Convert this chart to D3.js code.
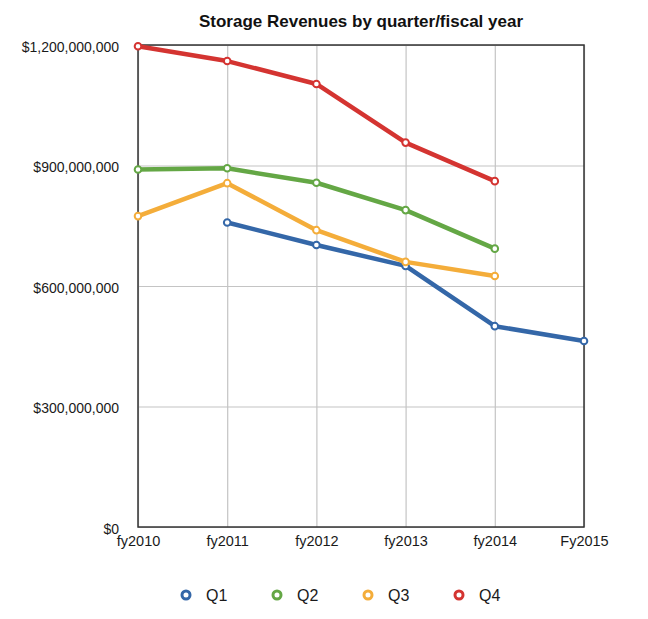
<!DOCTYPE html>
<html>
<head>
<meta charset="utf-8">
<script src="https://cdn.jsdelivr.net/npm/d3@7"></script>
<style>
  body { margin: 0; background: #fff; }
  text { font-family: "Liberation Sans", Arial, sans-serif; }
</style>
</head>
<body>
<svg id="chart"></svg>
<script>
// fiscal years on the x axis
const years = ["fy2010", "fy2011", "fy2012", "fy2013", "fy2014", "Fy2015"];
const yTicks = [0, 300e6, 600e6, 900e6, 1200e6];

// revenue per quarter, null where there is no value
const q1 = [null, 758e6, 702e6, 650e6, 500e6, 463e6];
const q2 = [890e6, 893e6, 857e6, 789e6, 693e6, null];
const q3 = [774e6, 856e6, 739e6, 660e6, 625e6, null];
const q4 = [1197e6, 1160e6, 1103e6, 957e6, 861e6, null];

const seriesNames = ["Q1", "Q2", "Q3", "Q4"];
const seriesColors = ["#3467a8", "#64a745", "#f4ad3a", "#d43431"];

const series = [q1, q2, q3, q4].map((vals, i) => ({
  name: seriesNames[i],
  color: seriesColors[i],
  values: vals.map((v, j) => ({ year: years[j], value: v }))
}));

const config = {
  width: 648,
  height: 619,
  margin: { top: 45, right: 64, bottom: 92, left: 138 }
};

const svg = d3.select("#chart")
  .attr("width", config.width)
  .attr("height", config.height);

const innerW = config.width - config.margin.left - config.margin.right;
const innerH = config.height - config.margin.top - config.margin.bottom;

const x = d3.scalePoint().domain(years).range([0, innerW]);
const y = d3.scaleLinear().domain([0, 1200e6]).range([innerH, 0]);

const g = svg.append("g")
  .attr("transform", `translate(${config.margin.left},${config.margin.top})`);

// title
svg.append("text")
  .attr("x", config.margin.left + innerW / 2)
  .attr("y", 27)
  .attr("text-anchor", "middle")
  .attr("font-size", 17)
  .attr("font-weight", "bold")
  .attr("fill", "#111")
  .text("Storage Revenues by quarter/fiscal year");

// gridlines
g.append("g")
  .call(d3.axisLeft(y).tickValues(yTicks).tickSize(-innerW).tickFormat(""))
  .call(s => s.select(".domain").remove())
  .call(s => s.selectAll("line").attr("stroke", "#c4c4c4").attr("stroke-width", 1.2));

g.append("g")
  .attr("transform", `translate(0,${innerH})`)
  .call(d3.axisBottom(x).tickSize(-innerH).tickFormat(""))
  .call(s => s.select(".domain").remove())
  .call(s => s.selectAll("line").attr("stroke", "#c4c4c4").attr("stroke-width", 1.2));

// frame
g.append("rect")
  .attr("width", innerW)
  .attr("height", innerH)
  .attr("fill", "none")
  .attr("stroke", "#333")
  .attr("stroke-width", 1.5);

// y labels
const fmt = v => "$" + d3.format(",")(v);
g.append("g")
  .call(d3.axisLeft(y).tickValues(yTicks).tickSize(0).tickPadding(19).tickFormat(fmt))
  .call(s => s.select(".domain").remove())
  .call(s => s.selectAll("text")
    .attr("font-size", 14)
    .attr("dy", "0.45em")
    .attr("fill", "#1a1a1a")
    .style("font-family", "'Liberation Sans', Arial, sans-serif"));

// x labels
g.append("g")
  .attr("transform", `translate(0,${innerH})`)
  .call(d3.axisBottom(x).tickSize(0).tickPadding(9))
  .call(s => s.select(".domain").remove())
  .call(s => s.selectAll("text")
    .attr("font-size", 14.5)
    .attr("fill", "#1a1a1a")
    .style("font-family", "'Liberation Sans', Arial, sans-serif"));

const line = d3.line()
  .defined(d => d.value != null)
  .x(d => x(d.year))
  .y(d => y(d.value));

series.forEach(s => {
  g.append("path")
    .datum(s.values)
    .attr("fill", "none")
    .attr("stroke", s.color)
    .attr("stroke-width", 4.5)
    .attr("stroke-linejoin", "round")
    .attr("d", line);

  g.selectAll(null)
    .data(s.values.filter(d => d.value != null))
    .join("circle")
    .attr("cx", d => x(d.year))
    .attr("cy", d => y(d.value))
    .attr("r", 3.3)
    .attr("fill", "#fff")
    .attr("stroke", s.color)
    .attr("stroke-width", 2);
});

// legend
const legend = svg.append("g").attr("transform", "translate(186,595)");
const item = legend.selectAll("g")
  .data(series)
  .join("g")
  .attr("transform", (d, i) => `translate(${i * 91},0)`);

item.append("circle")
  .attr("r", 4)
  .attr("fill", "#fff")
  .attr("stroke", d => d.color)
  .attr("stroke-width", 3);

item.append("text")
  .attr("x", 20)
  .attr("y", 6)
  .attr("font-size", 16)
  .attr("fill", "#1a1a1a")
  .text(d => d.name);
</script>
</body>
</html>
